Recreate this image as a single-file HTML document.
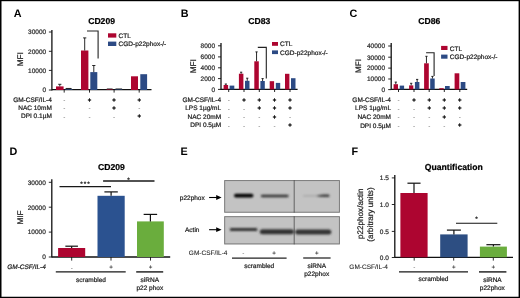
<!DOCTYPE html>
<html><head><meta charset="utf-8"><title>Figure</title>
<style>
html,body{margin:0;padding:0;background:#fff;}
body{width:520px;height:298px;overflow:hidden;}
svg{display:block;}
svg text{font-family:"Liberation Sans", Arial, sans-serif;text-rendering:geometricPrecision;}
</style></head>
<body>
<svg width="520" height="298" viewBox="0 0 520 298">
<rect x="0" y="0" width="520" height="298" fill="#fff"/>
<text x="13.7" y="17.1" font-size="10.8" font-weight="bold" fill="#000">A</text>
<text x="180.8" y="17.0" font-size="10.8" font-weight="bold" fill="#000">B</text>
<text x="349.6" y="17.0" font-size="10.8" font-weight="bold" fill="#000">C</text>
<text x="9.6" y="154.8" font-size="10.8" font-weight="bold" fill="#000">D</text>
<text x="180.4" y="155.3" font-size="10.8" font-weight="bold" fill="#000">E</text>
<text x="351.4" y="155.3" font-size="10.8" font-weight="bold" fill="#000">F</text>
<text x="88.20" y="24.18" font-size="8.6" text-anchor="start" font-weight="bold" fill="#000" stroke="#000" stroke-width="0.22">CD209</text>
<line x1="51.90" y1="30.00" x2="51.90" y2="90.50" stroke="#111" stroke-width="1.3"/>
<line x1="48.90" y1="32.00" x2="51.90" y2="32.00" stroke="#111" stroke-width="0.9"/>
<text x="46.20" y="34.33" font-size="6.5" text-anchor="end" fill="#2e2e2e" stroke="#2e2e2e" stroke-width="0.22">30000</text>
<line x1="48.90" y1="51.30" x2="51.90" y2="51.30" stroke="#111" stroke-width="0.9"/>
<text x="46.20" y="53.63" font-size="6.5" text-anchor="end" fill="#2e2e2e" stroke="#2e2e2e" stroke-width="0.22">20000</text>
<line x1="48.90" y1="70.40" x2="51.90" y2="70.40" stroke="#111" stroke-width="0.9"/>
<text x="46.20" y="72.73" font-size="6.5" text-anchor="end" fill="#2e2e2e" stroke="#2e2e2e" stroke-width="0.22">10000</text>
<line x1="48.90" y1="90.00" x2="51.90" y2="90.00" stroke="#111" stroke-width="0.9"/>
<text x="46.20" y="92.33" font-size="6.5" text-anchor="end" fill="#2e2e2e" stroke="#2e2e2e" stroke-width="0.22">0</text>
<text x="0" y="0" font-size="8.2" text-anchor="middle" fill="#1e1e1e" stroke="#1e1e1e" stroke-width="0.22" transform="translate(22.54,59.30) rotate(-90)">MFI</text>
<line x1="51.90" y1="89.60" x2="151.50" y2="89.60" stroke="#111" stroke-width="1.3"/>
<line x1="64.20" y1="89.60" x2="64.20" y2="92.60" stroke="#111" stroke-width="0.9"/>
<line x1="89.50" y1="89.60" x2="89.50" y2="92.60" stroke="#111" stroke-width="0.9"/>
<line x1="114.10" y1="89.60" x2="114.10" y2="92.60" stroke="#111" stroke-width="0.9"/>
<line x1="139.20" y1="89.60" x2="139.20" y2="92.60" stroke="#111" stroke-width="0.9"/>
<rect x="56.00" y="86.40" width="7.60" height="3.60" fill="#ad0530"/>
<line x1="59.80" y1="84.30" x2="59.80" y2="86.40" stroke="#111" stroke-width="0.9"/>
<line x1="58.20" y1="84.30" x2="61.40" y2="84.30" stroke="#111" stroke-width="0.9"/>
<rect x="65.40" y="89.20" width="7.00" height="0.80" fill="#2c4a84"/>
<rect x="81.00" y="50.50" width="7.40" height="39.50" fill="#ad0530"/>
<line x1="84.70" y1="37.90" x2="84.70" y2="50.50" stroke="#111" stroke-width="0.9"/>
<line x1="83.10" y1="37.90" x2="86.30" y2="37.90" stroke="#111" stroke-width="0.9"/>
<rect x="90.30" y="72.10" width="7.00" height="17.90" fill="#2c4a84"/>
<line x1="93.80" y1="65.50" x2="93.80" y2="72.10" stroke="#111" stroke-width="0.9"/>
<line x1="92.20" y1="65.50" x2="95.40" y2="65.50" stroke="#111" stroke-width="0.9"/>
<rect x="106.60" y="89.40" width="6.20" height="0.60" fill="#ad0530"/>
<rect x="115.30" y="89.40" width="7.00" height="0.60" fill="#2c4a84"/>
<rect x="131.00" y="76.30" width="7.00" height="13.70" fill="#ad0530"/>
<rect x="140.30" y="74.20" width="6.80" height="15.80" fill="#2c4a84"/>
<line x1="65.60" y1="88.50" x2="71.60" y2="88.50" stroke="#262626" stroke-width="1.1"/>
<line x1="106.80" y1="88.70" x2="112.60" y2="88.70" stroke="#333" stroke-width="0.7"/>
<line x1="115.50" y1="88.70" x2="122.10" y2="88.70" stroke="#333" stroke-width="0.7"/>
<polyline points="87.0,31.0 98.1,31.0 98.1,58.5" fill="none" stroke="#222" stroke-width="1.1"/>
<rect x="108.00" y="33.30" width="8.30" height="4.30" fill="#ad0530"/>
<text x="118.60" y="37.83" font-size="6.5" text-anchor="start" fill="#1e1e1e" stroke="#1e1e1e" stroke-width="0.22">CTL</text>
<rect x="108.00" y="41.60" width="8.30" height="4.40" fill="#2c4a84"/>
<text x="118.60" y="46.13" font-size="6.5" text-anchor="start" fill="#1e1e1e" stroke="#1e1e1e" stroke-width="0.22">CGD-p22phox-/-</text>
<text x="51.80" y="101.83" font-size="6.5" text-anchor="end" fill="#1e1e1e" stroke="#1e1e1e" stroke-width="0.22">GM-CSF/IL-4</text>
<text x="51.80" y="110.13" font-size="6.5" text-anchor="end" fill="#1e1e1e" stroke="#1e1e1e" stroke-width="0.22">NAC 10mM</text>
<text x="51.80" y="118.43" font-size="6.5" text-anchor="end" fill="#1e1e1e" stroke="#1e1e1e" stroke-width="0.22">DPI 0.1µM</text>
<text x="64.20" y="102.09" font-size="6.4" text-anchor="middle" fill="#6a6a6a" stroke="none">-</text>
<text x="89.50" y="101.85" font-size="6.0" text-anchor="middle" fill="#111" stroke="#111" stroke-width="0.45">+</text>
<text x="114.10" y="101.85" font-size="6.0" text-anchor="middle" fill="#111" stroke="#111" stroke-width="0.45">+</text>
<text x="139.20" y="101.85" font-size="6.0" text-anchor="middle" fill="#111" stroke="#111" stroke-width="0.45">+</text>
<text x="64.20" y="110.39" font-size="6.4" text-anchor="middle" fill="#6a6a6a" stroke="none">-</text>
<text x="89.50" y="110.39" font-size="6.4" text-anchor="middle" fill="#6a6a6a" stroke="none">-</text>
<text x="114.10" y="110.15" font-size="6.0" text-anchor="middle" fill="#111" stroke="#111" stroke-width="0.45">+</text>
<text x="139.20" y="110.39" font-size="6.4" text-anchor="middle" fill="#6a6a6a" stroke="none">-</text>
<text x="64.20" y="118.69" font-size="6.4" text-anchor="middle" fill="#6a6a6a" stroke="none">-</text>
<text x="89.50" y="118.69" font-size="6.4" text-anchor="middle" fill="#6a6a6a" stroke="none">-</text>
<text x="114.10" y="118.69" font-size="6.4" text-anchor="middle" fill="#6a6a6a" stroke="none">-</text>
<text x="139.20" y="118.45" font-size="6.0" text-anchor="middle" fill="#111" stroke="#111" stroke-width="0.45">+</text>
<text x="248.30" y="24.18" font-size="8.6" text-anchor="start" font-weight="bold" fill="#000" stroke="#000" stroke-width="0.22">CD83</text>
<line x1="221.00" y1="42.90" x2="221.00" y2="89.90" stroke="#111" stroke-width="1.3"/>
<line x1="218.00" y1="45.80" x2="221.00" y2="45.80" stroke="#111" stroke-width="0.9"/>
<text x="215.00" y="48.13" font-size="6.5" text-anchor="end" fill="#2e2e2e" stroke="#2e2e2e" stroke-width="0.22">8000</text>
<line x1="218.00" y1="56.90" x2="221.00" y2="56.90" stroke="#111" stroke-width="0.9"/>
<text x="215.00" y="59.23" font-size="6.5" text-anchor="end" fill="#2e2e2e" stroke="#2e2e2e" stroke-width="0.22">6000</text>
<line x1="218.00" y1="67.80" x2="221.00" y2="67.80" stroke="#111" stroke-width="0.9"/>
<text x="215.00" y="70.13" font-size="6.5" text-anchor="end" fill="#2e2e2e" stroke="#2e2e2e" stroke-width="0.22">4000</text>
<line x1="218.00" y1="78.60" x2="221.00" y2="78.60" stroke="#111" stroke-width="0.9"/>
<text x="215.00" y="80.93" font-size="6.5" text-anchor="end" fill="#2e2e2e" stroke="#2e2e2e" stroke-width="0.22">2000</text>
<line x1="218.00" y1="89.40" x2="221.00" y2="89.40" stroke="#111" stroke-width="0.9"/>
<text x="215.00" y="91.73" font-size="6.5" text-anchor="end" fill="#2e2e2e" stroke="#2e2e2e" stroke-width="0.22">0</text>
<text x="0" y="0" font-size="8.2" text-anchor="middle" fill="#1e1e1e" stroke="#1e1e1e" stroke-width="0.22" transform="translate(195.84,66.30) rotate(-90)">MFI</text>
<line x1="221.00" y1="89.40" x2="297.60" y2="89.40" stroke="#111" stroke-width="1.3"/>
<line x1="228.70" y1="89.40" x2="228.70" y2="92.00" stroke="#111" stroke-width="0.9"/>
<line x1="244.00" y1="89.40" x2="244.00" y2="92.00" stroke="#111" stroke-width="0.9"/>
<line x1="259.30" y1="89.40" x2="259.30" y2="92.00" stroke="#111" stroke-width="0.9"/>
<line x1="274.60" y1="89.40" x2="274.60" y2="92.00" stroke="#111" stroke-width="0.9"/>
<line x1="290.00" y1="89.40" x2="290.00" y2="92.00" stroke="#111" stroke-width="0.9"/>
<rect x="223.60" y="85.00" width="4.50" height="4.40" fill="#ad0530"/>
<line x1="225.85" y1="84.00" x2="225.85" y2="85.00" stroke="#111" stroke-width="0.9"/>
<line x1="224.75" y1="84.00" x2="226.95" y2="84.00" stroke="#111" stroke-width="0.9"/>
<rect x="229.60" y="85.60" width="4.70" height="3.80" fill="#2c4a84"/>
<rect x="238.90" y="73.70" width="4.50" height="15.70" fill="#ad0530"/>
<line x1="241.15" y1="72.20" x2="241.15" y2="73.70" stroke="#111" stroke-width="0.9"/>
<line x1="240.05" y1="72.20" x2="242.25" y2="72.20" stroke="#111" stroke-width="0.9"/>
<rect x="245.00" y="80.80" width="4.50" height="8.60" fill="#2c4a84"/>
<line x1="247.25" y1="78.20" x2="247.25" y2="80.80" stroke="#111" stroke-width="0.9"/>
<line x1="246.15" y1="78.20" x2="248.35" y2="78.20" stroke="#111" stroke-width="0.9"/>
<rect x="254.30" y="61.30" width="4.50" height="28.10" fill="#ad0530"/>
<line x1="256.55" y1="51.90" x2="256.55" y2="61.30" stroke="#111" stroke-width="0.9"/>
<line x1="255.45" y1="51.90" x2="257.65" y2="51.90" stroke="#111" stroke-width="0.9"/>
<rect x="260.40" y="81.00" width="4.40" height="8.40" fill="#2c4a84"/>
<line x1="262.60" y1="78.60" x2="262.60" y2="81.00" stroke="#111" stroke-width="0.9"/>
<line x1="261.50" y1="78.60" x2="263.70" y2="78.60" stroke="#111" stroke-width="0.9"/>
<rect x="269.70" y="81.20" width="4.40" height="8.20" fill="#ad0530"/>
<rect x="275.80" y="82.90" width="4.40" height="6.50" fill="#2c4a84"/>
<rect x="285.00" y="73.80" width="4.40" height="15.60" fill="#ad0530"/>
<rect x="291.00" y="78.20" width="4.50" height="11.20" fill="#2c4a84"/>
<polyline points="257.8,47.4 266.3,47.4 266.3,78.6" fill="none" stroke="#222" stroke-width="1.1"/>
<rect x="272.00" y="42.00" width="6.00" height="3.80" fill="#ad0530"/>
<text x="280.10" y="46.23" font-size="6.5" text-anchor="start" fill="#1e1e1e" stroke="#1e1e1e" stroke-width="0.22">CTL</text>
<rect x="272.00" y="50.40" width="6.00" height="3.70" fill="#2c4a84"/>
<text x="280.10" y="54.63" font-size="6.5" text-anchor="start" fill="#1e1e1e" stroke="#1e1e1e" stroke-width="0.22">CGD-p22phox-/-</text>
<text x="221.10" y="101.83" font-size="6.5" text-anchor="end" fill="#1e1e1e" stroke="#1e1e1e" stroke-width="0.22">GM-CSF/IL-4</text>
<text x="221.10" y="110.33" font-size="6.5" text-anchor="end" fill="#1e1e1e" stroke="#1e1e1e" stroke-width="0.22">LPS 1µg/mL</text>
<text x="221.10" y="118.93" font-size="6.5" text-anchor="end" fill="#1e1e1e" stroke="#1e1e1e" stroke-width="0.22">NAC 20mM</text>
<text x="221.10" y="127.33" font-size="6.5" text-anchor="end" fill="#1e1e1e" stroke="#1e1e1e" stroke-width="0.22">DPI 0.5µM</text>
<text x="228.70" y="102.09" font-size="6.4" text-anchor="middle" fill="#6a6a6a" stroke="none">-</text>
<text x="244.00" y="101.85" font-size="6.0" text-anchor="middle" fill="#111" stroke="#111" stroke-width="0.45">+</text>
<text x="259.30" y="101.85" font-size="6.0" text-anchor="middle" fill="#111" stroke="#111" stroke-width="0.45">+</text>
<text x="274.60" y="101.85" font-size="6.0" text-anchor="middle" fill="#111" stroke="#111" stroke-width="0.45">+</text>
<text x="290.00" y="101.85" font-size="6.0" text-anchor="middle" fill="#111" stroke="#111" stroke-width="0.45">+</text>
<text x="228.70" y="110.59" font-size="6.4" text-anchor="middle" fill="#6a6a6a" stroke="none">-</text>
<text x="244.00" y="110.59" font-size="6.4" text-anchor="middle" fill="#6a6a6a" stroke="none">-</text>
<text x="259.30" y="110.35" font-size="6.0" text-anchor="middle" fill="#111" stroke="#111" stroke-width="0.45">+</text>
<text x="274.60" y="110.35" font-size="6.0" text-anchor="middle" fill="#111" stroke="#111" stroke-width="0.45">+</text>
<text x="290.00" y="110.35" font-size="6.0" text-anchor="middle" fill="#111" stroke="#111" stroke-width="0.45">+</text>
<text x="228.70" y="119.19" font-size="6.4" text-anchor="middle" fill="#6a6a6a" stroke="none">-</text>
<text x="244.00" y="119.19" font-size="6.4" text-anchor="middle" fill="#6a6a6a" stroke="none">-</text>
<text x="259.30" y="119.19" font-size="6.4" text-anchor="middle" fill="#6a6a6a" stroke="none">-</text>
<text x="274.60" y="118.95" font-size="6.0" text-anchor="middle" fill="#111" stroke="#111" stroke-width="0.45">+</text>
<text x="290.00" y="119.19" font-size="6.4" text-anchor="middle" fill="#6a6a6a" stroke="none">-</text>
<text x="228.70" y="127.59" font-size="6.4" text-anchor="middle" fill="#6a6a6a" stroke="none">-</text>
<text x="244.00" y="127.59" font-size="6.4" text-anchor="middle" fill="#6a6a6a" stroke="none">-</text>
<text x="259.30" y="127.59" font-size="6.4" text-anchor="middle" fill="#6a6a6a" stroke="none">-</text>
<text x="274.60" y="127.59" font-size="6.4" text-anchor="middle" fill="#6a6a6a" stroke="none">-</text>
<text x="290.00" y="127.35" font-size="6.0" text-anchor="middle" fill="#111" stroke="#111" stroke-width="0.45">+</text>
<text x="418.30" y="24.18" font-size="8.6" text-anchor="start" font-weight="bold" fill="#000" stroke="#000" stroke-width="0.22">CD86</text>
<line x1="391.20" y1="42.90" x2="391.20" y2="89.90" stroke="#111" stroke-width="1.3"/>
<line x1="388.20" y1="46.00" x2="391.20" y2="46.00" stroke="#111" stroke-width="0.9"/>
<text x="385.00" y="48.33" font-size="6.5" text-anchor="end" fill="#2e2e2e" stroke="#2e2e2e" stroke-width="0.22">40000</text>
<line x1="388.20" y1="57.20" x2="391.20" y2="57.20" stroke="#111" stroke-width="0.9"/>
<text x="385.00" y="59.53" font-size="6.5" text-anchor="end" fill="#2e2e2e" stroke="#2e2e2e" stroke-width="0.22">30000</text>
<line x1="388.20" y1="68.10" x2="391.20" y2="68.10" stroke="#111" stroke-width="0.9"/>
<text x="385.00" y="70.43" font-size="6.5" text-anchor="end" fill="#2e2e2e" stroke="#2e2e2e" stroke-width="0.22">20000</text>
<line x1="388.20" y1="79.00" x2="391.20" y2="79.00" stroke="#111" stroke-width="0.9"/>
<text x="385.00" y="81.33" font-size="6.5" text-anchor="end" fill="#2e2e2e" stroke="#2e2e2e" stroke-width="0.22">10000</text>
<line x1="388.20" y1="89.60" x2="391.20" y2="89.60" stroke="#111" stroke-width="0.9"/>
<text x="385.00" y="91.93" font-size="6.5" text-anchor="end" fill="#2e2e2e" stroke="#2e2e2e" stroke-width="0.22">0</text>
<text x="0" y="0" font-size="8.0" text-anchor="middle" fill="#1e1e1e" stroke="#1e1e1e" stroke-width="0.22" transform="translate(361.26,66.00) rotate(-90)">MFI</text>
<line x1="391.20" y1="89.40" x2="467.20" y2="89.40" stroke="#111" stroke-width="1.3"/>
<line x1="398.50" y1="89.40" x2="398.50" y2="92.00" stroke="#111" stroke-width="0.9"/>
<line x1="414.00" y1="89.40" x2="414.00" y2="92.00" stroke="#111" stroke-width="0.9"/>
<line x1="429.20" y1="89.40" x2="429.20" y2="92.00" stroke="#111" stroke-width="0.9"/>
<line x1="444.30" y1="89.40" x2="444.30" y2="92.00" stroke="#111" stroke-width="0.9"/>
<line x1="459.80" y1="89.40" x2="459.80" y2="92.00" stroke="#111" stroke-width="0.9"/>
<rect x="393.60" y="84.20" width="4.40" height="5.20" fill="#ad0530"/>
<line x1="395.80" y1="82.10" x2="395.80" y2="84.20" stroke="#111" stroke-width="0.9"/>
<line x1="394.70" y1="82.10" x2="396.90" y2="82.10" stroke="#111" stroke-width="0.9"/>
<rect x="399.70" y="85.60" width="4.40" height="3.80" fill="#2c4a84"/>
<rect x="409.10" y="85.40" width="4.20" height="4.00" fill="#ad0530"/>
<line x1="411.20" y1="83.30" x2="411.20" y2="85.40" stroke="#111" stroke-width="0.9"/>
<line x1="410.10" y1="83.30" x2="412.30" y2="83.30" stroke="#111" stroke-width="0.9"/>
<rect x="414.90" y="82.00" width="4.50" height="7.40" fill="#2c4a84"/>
<line x1="417.15" y1="79.40" x2="417.15" y2="82.00" stroke="#111" stroke-width="0.9"/>
<line x1="416.05" y1="79.40" x2="418.25" y2="79.40" stroke="#111" stroke-width="0.9"/>
<rect x="424.10" y="63.30" width="4.70" height="26.10" fill="#ad0530"/>
<line x1="426.45" y1="56.30" x2="426.45" y2="63.30" stroke="#111" stroke-width="0.9"/>
<line x1="425.35" y1="56.30" x2="427.55" y2="56.30" stroke="#111" stroke-width="0.9"/>
<rect x="430.20" y="78.50" width="4.50" height="10.90" fill="#2c4a84"/>
<line x1="432.45" y1="76.40" x2="432.45" y2="78.50" stroke="#111" stroke-width="0.9"/>
<line x1="431.35" y1="76.40" x2="433.55" y2="76.40" stroke="#111" stroke-width="0.9"/>
<rect x="439.30" y="88.20" width="4.40" height="1.20" fill="#ad0530"/>
<rect x="445.00" y="86.00" width="4.70" height="3.40" fill="#2c4a84"/>
<rect x="454.60" y="73.30" width="4.70" height="16.10" fill="#ad0530"/>
<rect x="460.70" y="82.00" width="4.70" height="7.40" fill="#2c4a84"/>
<polyline points="426.1,52.8 434.1,52.8 434.1,76.0" fill="none" stroke="#222" stroke-width="1.1"/>
<rect x="441.10" y="45.90" width="6.40" height="4.10" fill="#ad0530"/>
<text x="449.80" y="50.63" font-size="6.5" text-anchor="start" fill="#1e1e1e" stroke="#1e1e1e" stroke-width="0.22">CTL</text>
<rect x="441.10" y="54.60" width="6.40" height="4.10" fill="#2c4a84"/>
<text x="449.80" y="59.33" font-size="6.5" text-anchor="start" fill="#1e1e1e" stroke="#1e1e1e" stroke-width="0.22">CGD-p22phox-/-</text>
<text x="391.00" y="102.03" font-size="6.5" text-anchor="end" fill="#1e1e1e" stroke="#1e1e1e" stroke-width="0.22">GM-CSF/IL-4</text>
<text x="391.00" y="110.43" font-size="6.5" text-anchor="end" fill="#1e1e1e" stroke="#1e1e1e" stroke-width="0.22">LPS 1µg/mL</text>
<text x="391.00" y="119.33" font-size="6.5" text-anchor="end" fill="#1e1e1e" stroke="#1e1e1e" stroke-width="0.22">NAC 20mM</text>
<text x="391.00" y="127.73" font-size="6.5" text-anchor="end" fill="#1e1e1e" stroke="#1e1e1e" stroke-width="0.22">DPI 0.5µM</text>
<text x="398.50" y="102.09" font-size="6.4" text-anchor="middle" fill="#6a6a6a" stroke="none">-</text>
<text x="414.00" y="101.85" font-size="6.0" text-anchor="middle" fill="#111" stroke="#111" stroke-width="0.45">+</text>
<text x="429.20" y="101.85" font-size="6.0" text-anchor="middle" fill="#111" stroke="#111" stroke-width="0.45">+</text>
<text x="444.30" y="101.85" font-size="6.0" text-anchor="middle" fill="#111" stroke="#111" stroke-width="0.45">+</text>
<text x="459.80" y="101.85" font-size="6.0" text-anchor="middle" fill="#111" stroke="#111" stroke-width="0.45">+</text>
<text x="398.50" y="110.59" font-size="6.4" text-anchor="middle" fill="#6a6a6a" stroke="none">-</text>
<text x="414.00" y="110.59" font-size="6.4" text-anchor="middle" fill="#6a6a6a" stroke="none">-</text>
<text x="429.20" y="110.35" font-size="6.0" text-anchor="middle" fill="#111" stroke="#111" stroke-width="0.45">+</text>
<text x="444.30" y="110.35" font-size="6.0" text-anchor="middle" fill="#111" stroke="#111" stroke-width="0.45">+</text>
<text x="459.80" y="110.35" font-size="6.0" text-anchor="middle" fill="#111" stroke="#111" stroke-width="0.45">+</text>
<text x="398.50" y="119.19" font-size="6.4" text-anchor="middle" fill="#6a6a6a" stroke="none">-</text>
<text x="414.00" y="119.19" font-size="6.4" text-anchor="middle" fill="#6a6a6a" stroke="none">-</text>
<text x="429.20" y="119.19" font-size="6.4" text-anchor="middle" fill="#6a6a6a" stroke="none">-</text>
<text x="444.30" y="118.95" font-size="6.0" text-anchor="middle" fill="#111" stroke="#111" stroke-width="0.45">+</text>
<text x="459.80" y="119.19" font-size="6.4" text-anchor="middle" fill="#6a6a6a" stroke="none">-</text>
<text x="398.50" y="127.59" font-size="6.4" text-anchor="middle" fill="#6a6a6a" stroke="none">-</text>
<text x="414.00" y="127.59" font-size="6.4" text-anchor="middle" fill="#6a6a6a" stroke="none">-</text>
<text x="429.20" y="127.59" font-size="6.4" text-anchor="middle" fill="#6a6a6a" stroke="none">-</text>
<text x="444.30" y="127.59" font-size="6.4" text-anchor="middle" fill="#6a6a6a" stroke="none">-</text>
<text x="459.80" y="127.35" font-size="6.0" text-anchor="middle" fill="#111" stroke="#111" stroke-width="0.45">+</text>
<text x="98.00" y="169.88" font-size="8.6" text-anchor="start" font-weight="bold" fill="#000" stroke="#000" stroke-width="0.22">CD209</text>
<line x1="51.80" y1="179.30" x2="51.80" y2="257.50" stroke="#111" stroke-width="1.3"/>
<line x1="48.80" y1="182.30" x2="51.80" y2="182.30" stroke="#111" stroke-width="0.9"/>
<text x="45.80" y="184.63" font-size="6.5" text-anchor="end" fill="#2e2e2e" stroke="#2e2e2e" stroke-width="0.22">30000</text>
<line x1="48.80" y1="207.20" x2="51.80" y2="207.20" stroke="#111" stroke-width="0.9"/>
<text x="45.80" y="209.53" font-size="6.5" text-anchor="end" fill="#2e2e2e" stroke="#2e2e2e" stroke-width="0.22">20000</text>
<line x1="48.80" y1="232.10" x2="51.80" y2="232.10" stroke="#111" stroke-width="0.9"/>
<text x="45.80" y="234.43" font-size="6.5" text-anchor="end" fill="#2e2e2e" stroke="#2e2e2e" stroke-width="0.22">10000</text>
<line x1="48.80" y1="257.00" x2="51.80" y2="257.00" stroke="#111" stroke-width="0.9"/>
<text x="45.80" y="259.33" font-size="6.5" text-anchor="end" fill="#2e2e2e" stroke="#2e2e2e" stroke-width="0.22">0</text>
<text x="0" y="0" font-size="8.2" text-anchor="middle" fill="#1e1e1e" stroke="#1e1e1e" stroke-width="0.22" transform="translate(22.54,217.50) rotate(-90)">MIF</text>
<line x1="51.80" y1="257.00" x2="170.20" y2="257.00" stroke="#111" stroke-width="1.3"/>
<line x1="71.70" y1="257.00" x2="71.70" y2="260.60" stroke="#111" stroke-width="0.9"/>
<line x1="111.00" y1="257.00" x2="111.00" y2="260.60" stroke="#111" stroke-width="0.9"/>
<line x1="150.50" y1="257.00" x2="150.50" y2="260.60" stroke="#111" stroke-width="0.9"/>
<rect x="58.10" y="248.00" width="27.10" height="9.00" fill="#ad0530"/>
<line x1="71.65" y1="246.20" x2="71.65" y2="248.00" stroke="#111" stroke-width="1.2"/>
<line x1="65.35" y1="246.20" x2="77.95" y2="246.20" stroke="#111" stroke-width="1.2"/>
<rect x="97.50" y="195.80" width="27.20" height="61.20" fill="#2b5290"/>
<line x1="111.10" y1="191.90" x2="111.10" y2="195.80" stroke="#111" stroke-width="1.2"/>
<line x1="104.40" y1="191.90" x2="117.80" y2="191.90" stroke="#111" stroke-width="1.2"/>
<rect x="137.00" y="221.40" width="26.80" height="35.60" fill="#6aad3d"/>
<line x1="150.40" y1="214.40" x2="150.40" y2="221.40" stroke="#111" stroke-width="1.2"/>
<line x1="143.65" y1="214.40" x2="157.15" y2="214.40" stroke="#111" stroke-width="1.2"/>
<line x1="59.50" y1="186.60" x2="111.00" y2="186.60" stroke="#181818" stroke-width="1.4"/>
<text x="85.50" y="185.63" font-size="6.5" text-anchor="middle" fill="#1e1e1e" letter-spacing="0.9" stroke="#1e1e1e" stroke-width="0.22">***</text>
<line x1="103.10" y1="181.00" x2="154.50" y2="181.00" stroke="#181818" stroke-width="1.4"/>
<text x="128.40" y="181.63" font-size="6.5" text-anchor="middle" fill="#1e1e1e" stroke="#1e1e1e" stroke-width="0.22">*</text>
<text x="0" y="0" font-size="6.5" text-anchor="end" fill="#1e1e1e" stroke="#1e1e1e" stroke-width="0.22" transform="translate(45.6,268.93) skewX(-9)">GM-CSF/IL-4</text>
<text x="71.70" y="269.59" font-size="6.4" text-anchor="middle" fill="#6a6a6a" stroke="none">-</text>
<text x="111.00" y="269.42" font-size="6.2" text-anchor="middle" fill="#222" stroke="#222" stroke-width="0.1">+</text>
<text x="150.50" y="269.42" font-size="6.2" text-anchor="middle" fill="#222" stroke="#222" stroke-width="0.1">+</text>
<line x1="55.80" y1="271.90" x2="125.70" y2="271.90" stroke="#181818" stroke-width="1.4"/>
<line x1="136.20" y1="271.90" x2="163.20" y2="271.90" stroke="#181818" stroke-width="1.4"/>
<text x="91.00" y="281.73" font-size="6.5" text-anchor="middle" fill="#1e1e1e" stroke="#1e1e1e" stroke-width="0.22">scrambled</text>
<text x="149.80" y="281.83" font-size="6.5" text-anchor="middle" fill="#1e1e1e" stroke="#1e1e1e" stroke-width="0.22">siRNA</text>
<text x="149.80" y="290.13" font-size="6.5" text-anchor="middle" fill="#1e1e1e" stroke="#1e1e1e" stroke-width="0.22">p22 phox</text>
<defs><filter id="bl" x="-20%" y="-200%" width="140%" height="500%"><feGaussianBlur stdDeviation="0.8"/></filter></defs>
<rect x="224.20" y="180.10" width="115.70" height="32.60" fill="#c3c3c3"/>
<rect x="224.7" y="180.60" width="114.7" height="31.60" fill="none" stroke="#767676" stroke-width="0.9"/>
<line x1="294.20" y1="180.10" x2="294.20" y2="212.70" stroke="#4a4a4a" stroke-width="0.8"/>
<rect x="224.20" y="216.20" width="115.70" height="28.20" fill="#c3c3c3"/>
<rect x="224.7" y="216.70" width="114.7" height="27.20" fill="none" stroke="#767676" stroke-width="0.9"/>
<line x1="294.20" y1="216.20" x2="294.20" y2="244.40" stroke="#4a4a4a" stroke-width="0.8"/>
<g filter="url(#bl)">
<rect x="234.00" y="193.70" width="19.40" height="3.80" rx="1.90" fill="#000"/>
<rect x="260.80" y="194.65" width="27.80" height="2.70" rx="1.35" fill="#333"/>
<rect x="303.00" y="195.20" width="18.00" height="1.20" rx="0.60" fill="#a2a2a2"/>
<path d="M316,195.9 C320,194.8 324,194.3 328.5,194.6 C330,195.2 330,196.3 328.5,196.9 C324,197.2 320,196.9 316,195.9 Z" fill="#3a3a3a"/>
<rect x="229.90" y="228.10" width="27.40" height="3.00" rx="1.20" fill="#303030"/>
<rect x="259.80" y="229.20" width="34.20" height="5.00" rx="2.50" fill="#323232"/>
<rect x="295.20" y="229.40" width="36.10" height="5.00" rx="2.50" fill="#323232"/>
</g>
<text x="179.80" y="200.13" font-size="6.5" text-anchor="start" fill="#1e1e1e" stroke="#1e1e1e" stroke-width="0.22">p22phox</text>
<text x="185.00" y="231.93" font-size="6.5" text-anchor="start" fill="#1e1e1e" stroke="#1e1e1e" stroke-width="0.22">Actin</text>
<line x1="209.10" y1="197.50" x2="218.00" y2="197.50" stroke="#000" stroke-width="1.1"/>
<polygon points="221.6,197.50 216.2,195.10 216.2,199.90" fill="#000"/>
<line x1="209.10" y1="229.70" x2="218.00" y2="229.70" stroke="#000" stroke-width="1.1"/>
<polygon points="221.6,229.70 216.2,227.30 216.2,232.10" fill="#000"/>
<text x="227.50" y="255.33" font-size="6.5" text-anchor="end" fill="#1e1e1e" stroke="#1e1e1e" stroke-width="0.08">GM-CSF/IL-4</text>
<text x="243.20" y="255.09" font-size="6.4" text-anchor="middle" fill="#6a6a6a" stroke="none">-</text>
<text x="274.10" y="254.92" font-size="6.2" text-anchor="middle" fill="#222" stroke="#222" stroke-width="0.1">+</text>
<text x="316.80" y="254.92" font-size="6.2" text-anchor="middle" fill="#222" stroke="#222" stroke-width="0.1">+</text>
<line x1="232.00" y1="258.00" x2="286.60" y2="258.00" stroke="#222" stroke-width="1.25"/>
<line x1="303.20" y1="258.00" x2="330.60" y2="258.00" stroke="#222" stroke-width="1.25"/>
<text x="259.20" y="268.03" font-size="6.5" text-anchor="middle" fill="#1e1e1e" stroke="#1e1e1e" stroke-width="0.22">scrambled</text>
<text x="316.80" y="267.93" font-size="6.5" text-anchor="middle" fill="#1e1e1e" stroke="#1e1e1e" stroke-width="0.22">siRNA</text>
<text x="316.70" y="275.73" font-size="6.5" text-anchor="middle" fill="#1e1e1e" stroke="#1e1e1e" stroke-width="0.22">p22phox</text>
<text x="424.80" y="169.70" font-size="8.65" text-anchor="start" font-weight="bold" fill="#000" stroke="#000" stroke-width="0.22">Quantification</text>
<line x1="394.80" y1="174.90" x2="394.80" y2="257.80" stroke="#111" stroke-width="1.3"/>
<line x1="391.80" y1="177.90" x2="394.80" y2="177.90" stroke="#111" stroke-width="0.9"/>
<text x="388.90" y="180.23" font-size="6.5" text-anchor="end" fill="#2e2e2e" stroke="#2e2e2e" stroke-width="0.22">1.5</text>
<line x1="391.80" y1="204.50" x2="394.80" y2="204.50" stroke="#111" stroke-width="0.9"/>
<text x="388.90" y="206.83" font-size="6.5" text-anchor="end" fill="#2e2e2e" stroke="#2e2e2e" stroke-width="0.22">1.0</text>
<line x1="391.80" y1="231.40" x2="394.80" y2="231.40" stroke="#111" stroke-width="0.9"/>
<text x="388.90" y="233.73" font-size="6.5" text-anchor="end" fill="#2e2e2e" stroke="#2e2e2e" stroke-width="0.22">0.5</text>
<line x1="391.80" y1="257.50" x2="394.80" y2="257.50" stroke="#111" stroke-width="0.9"/>
<text x="388.90" y="259.83" font-size="6.5" text-anchor="end" fill="#2e2e2e" stroke="#2e2e2e" stroke-width="0.22">0.0</text>
<text x="0" y="0" font-size="8.1" text-anchor="middle" fill="#1e1e1e" stroke="#1e1e1e" stroke-width="0.22" transform="translate(362.80,213.70) rotate(-90)">p22phox/actin</text>
<text x="0" y="0" font-size="8.1" text-anchor="middle" fill="#1e1e1e" stroke="#1e1e1e" stroke-width="0.22" transform="translate(373.20,214.60) rotate(-90)">(arbitrary units)</text>
<line x1="394.80" y1="257.30" x2="513.00" y2="257.30" stroke="#111" stroke-width="1.3"/>
<line x1="414.20" y1="257.30" x2="414.20" y2="260.60" stroke="#111" stroke-width="0.9"/>
<line x1="453.70" y1="257.30" x2="453.70" y2="260.60" stroke="#111" stroke-width="0.9"/>
<line x1="493.30" y1="257.30" x2="493.30" y2="260.60" stroke="#111" stroke-width="0.9"/>
<rect x="400.40" y="193.00" width="27.20" height="64.30" fill="#ad0530"/>
<line x1="414.00" y1="183.20" x2="414.00" y2="193.00" stroke="#111" stroke-width="1.2"/>
<line x1="407.45" y1="183.20" x2="420.55" y2="183.20" stroke="#111" stroke-width="1.2"/>
<rect x="440.20" y="234.40" width="27.40" height="22.90" fill="#2d4e82"/>
<line x1="453.90" y1="230.10" x2="453.90" y2="234.40" stroke="#111" stroke-width="1.2"/>
<line x1="446.90" y1="230.10" x2="460.90" y2="230.10" stroke="#111" stroke-width="1.2"/>
<rect x="479.90" y="246.60" width="27.00" height="10.70" fill="#6aad3d"/>
<line x1="493.40" y1="244.70" x2="493.40" y2="246.60" stroke="#111" stroke-width="1.2"/>
<line x1="486.40" y1="244.70" x2="500.40" y2="244.70" stroke="#111" stroke-width="1.2"/>
<line x1="456.00" y1="223.30" x2="497.30" y2="223.30" stroke="#111" stroke-width="1.1"/>
<text x="476.40" y="221.23" font-size="6.5" text-anchor="middle" fill="#1e1e1e" stroke="#1e1e1e" stroke-width="0.22">*</text>
<text x="388.00" y="269.33" font-size="6.5" text-anchor="end" fill="#1e1e1e" stroke="#1e1e1e" stroke-width="0.08">GM-CSF/IL-4</text>
<text x="414.20" y="269.49" font-size="6.4" text-anchor="middle" fill="#6a6a6a" stroke="none">-</text>
<text x="453.70" y="269.32" font-size="6.2" text-anchor="middle" fill="#222" stroke="#222" stroke-width="0.1">+</text>
<text x="493.30" y="269.32" font-size="6.2" text-anchor="middle" fill="#222" stroke="#222" stroke-width="0.1">+</text>
<line x1="399.00" y1="271.90" x2="468.00" y2="271.90" stroke="#181818" stroke-width="1.4"/>
<line x1="479.00" y1="271.90" x2="506.40" y2="271.90" stroke="#181818" stroke-width="1.4"/>
<text x="433.50" y="281.13" font-size="6.5" text-anchor="middle" fill="#1e1e1e" stroke="#1e1e1e" stroke-width="0.22">scrambled</text>
<text x="492.50" y="281.73" font-size="6.5" text-anchor="middle" fill="#1e1e1e" stroke="#1e1e1e" stroke-width="0.22">siRNA</text>
<text x="492.30" y="289.83" font-size="6.5" text-anchor="middle" fill="#1e1e1e" stroke="#1e1e1e" stroke-width="0.22">p22phox</text>
<rect x="0" y="0" width="520" height="1.2" fill="#000"/>
<rect x="0" y="0" width="1.5" height="298" fill="#000"/>
<rect x="518.6" y="0" width="1.4" height="298" fill="#000"/>
<rect x="0" y="296.75" width="520" height="1.25" fill="#000"/>
</svg>
</body></html>
